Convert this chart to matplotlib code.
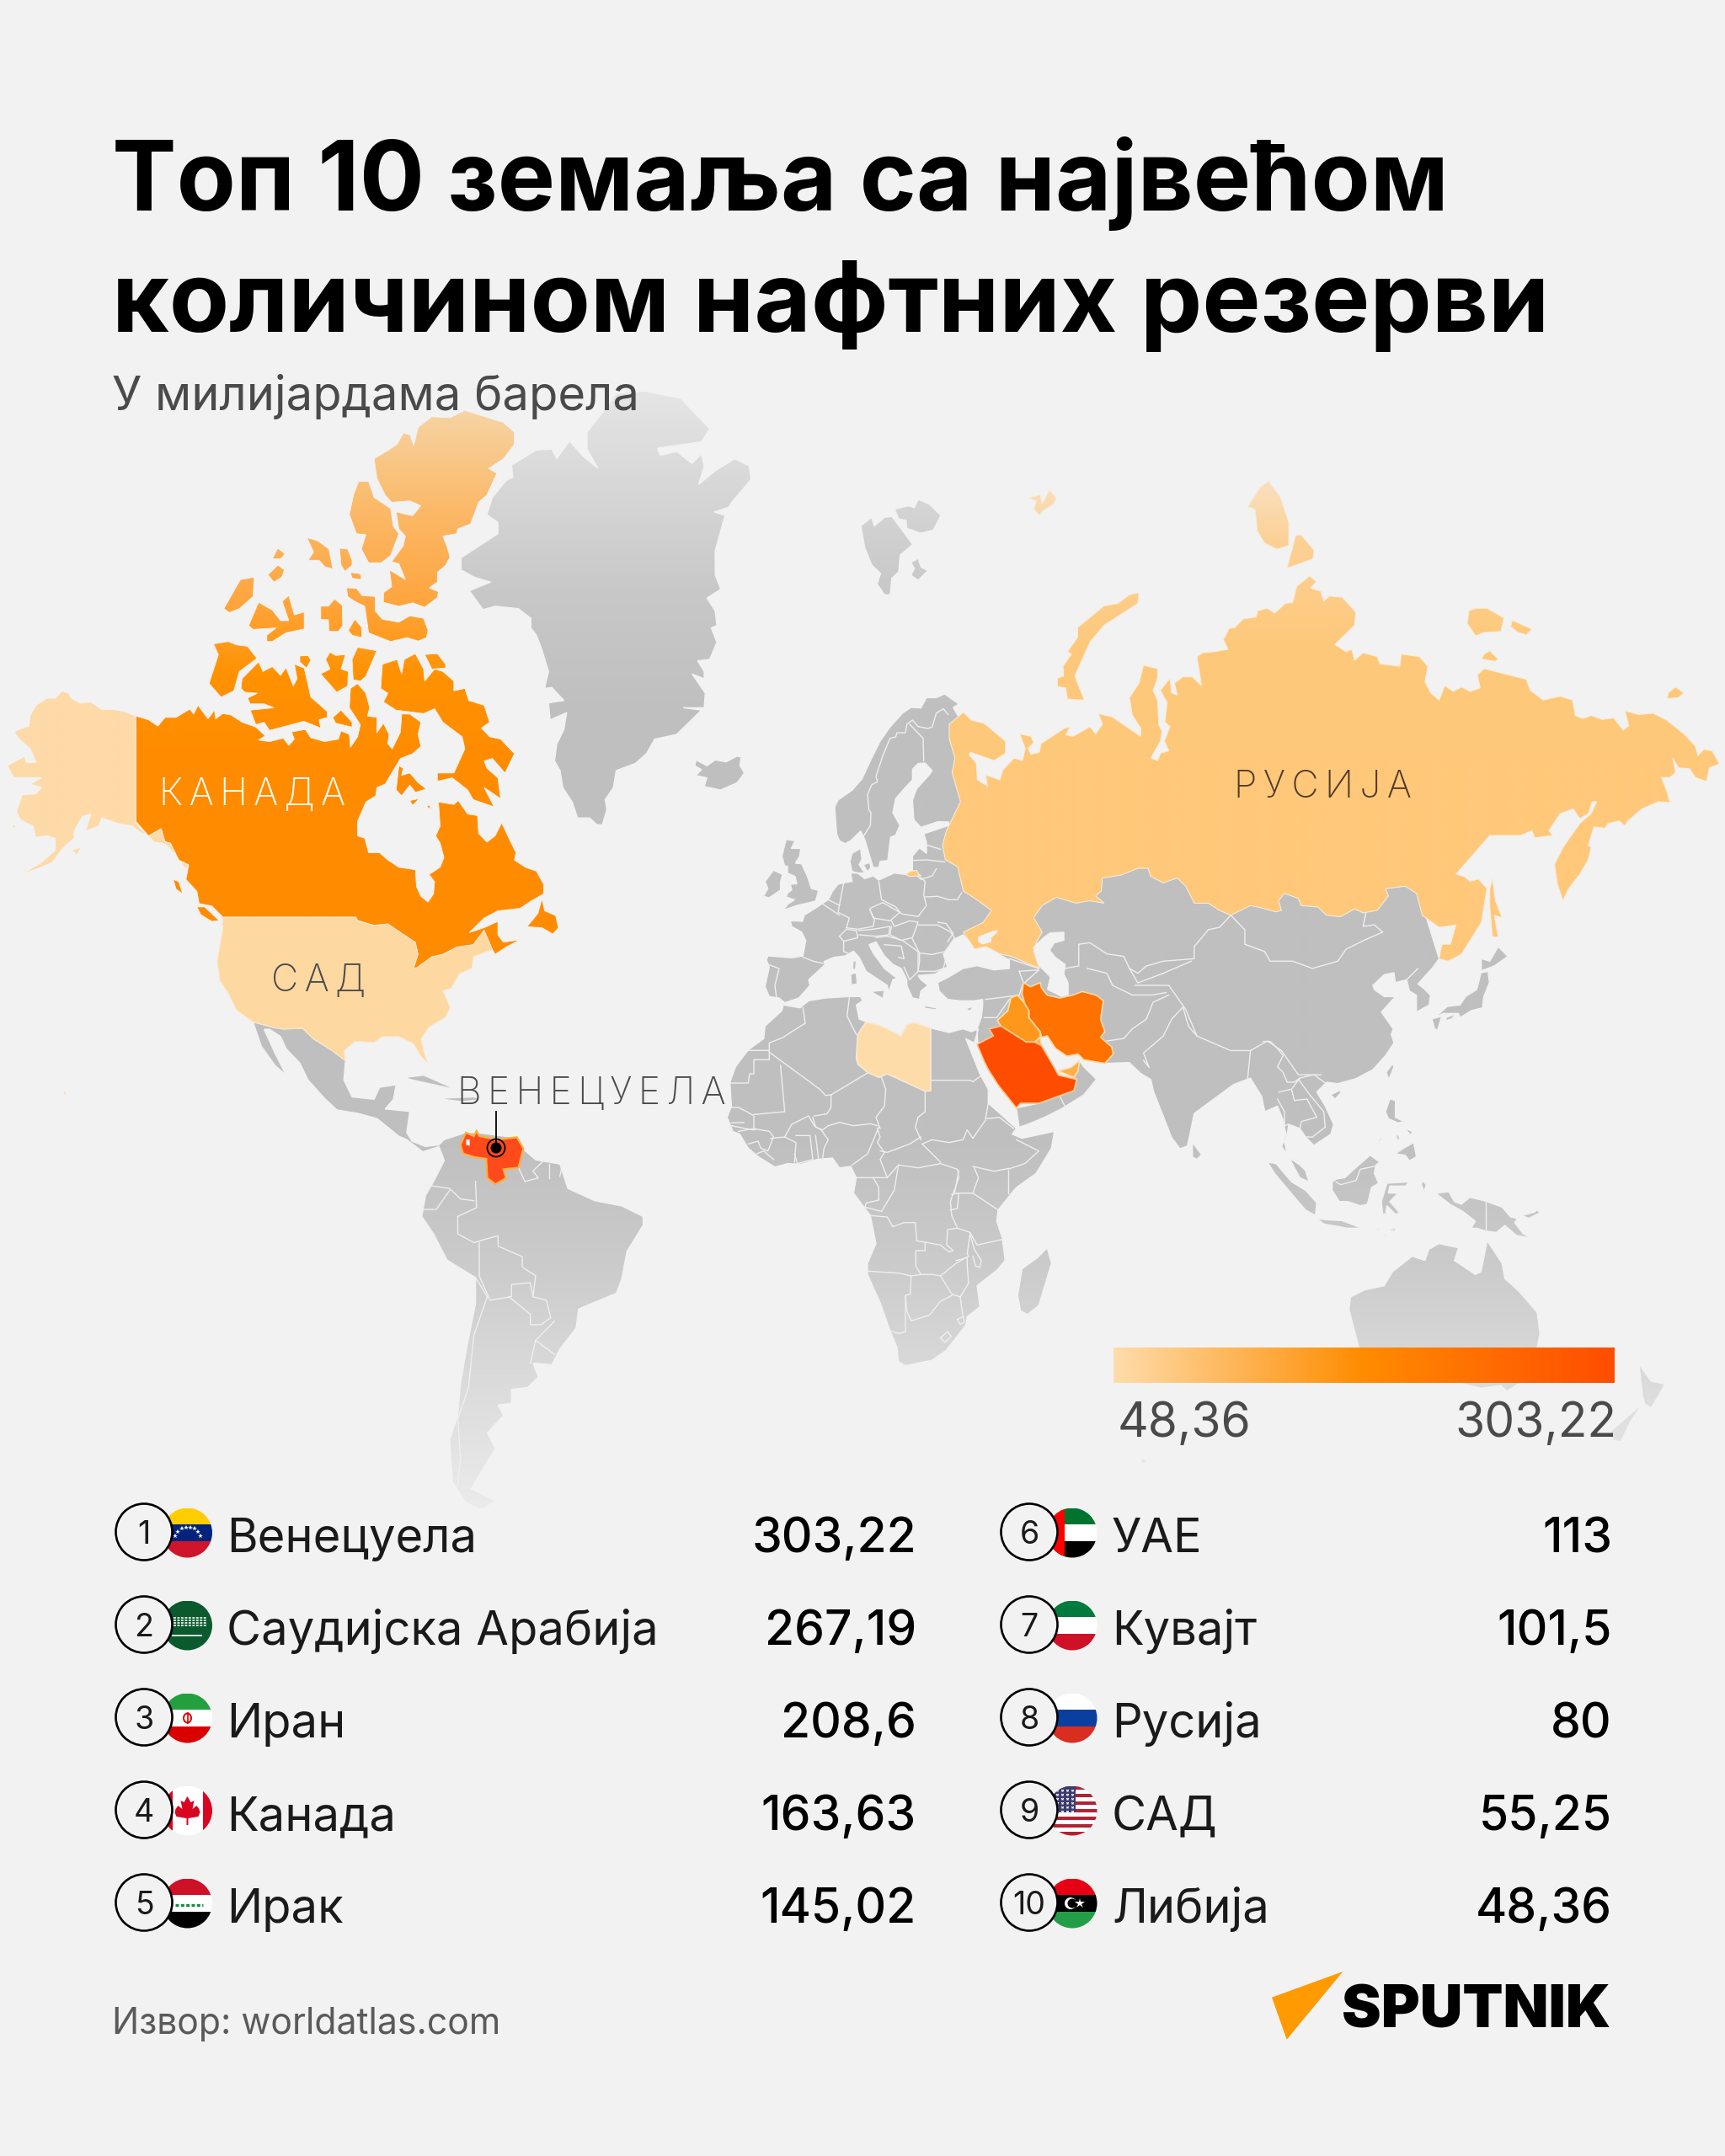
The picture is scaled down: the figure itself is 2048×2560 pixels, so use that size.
import numpy as np
import matplotlib
matplotlib.use('Agg')
import matplotlib.pyplot as plt
from matplotlib.colors import LinearSegmentedColormap, to_rgb
from matplotlib.patches import Circle, Polygon, Rectangle, Ellipse

plt.rcParams['font.family'] = ['Inter', 'DejaVu Sans']

# ---- data -------------------------------------------------------------
TITLE_LINES = ['Топ 10 земаља са највећом', 'количином нафтних резерви']
SUBTITLE = 'У милијардама барела'
SOURCE = 'Извор: worldatlas.com'
RANKS = [1, 2, 3, 4, 5, 6, 7, 8, 9, 10]
COUNTRIES = ['Венецуела', 'Саудијска Арабија', 'Иран', 'Канада', 'Ирак',
             'УАЕ', 'Кувајт', 'Русија', 'САД', 'Либија']
RESERVES = [303.22, 267.19, 208.6, 163.63, 145.02, 113, 101.5, 80, 55.25, 48.36]
MAP_LABELS = ['КАНАДА', 'САД', 'РУСИЈА', 'ВЕНЕЦУЕЛА']

BG = '#f2f2f2'
TXT = '#4a4a4a'

Z1 = (0, 450, 1.531, 1.742)
Z2 = (1000, 550, 1.496, 1.742)
Z3 = (400, 1150, 1.568, 2.412)
Z4 = (1200, 1500, 1.96, 3)
Z8 = (880, 820, 3, 3)
Z9 = (1500, 1150, 3, 3)
Z10 = (840, 1150, 3, 3)


def zc(frame, pts):
    x0, y0, sx, sy = frame
    return [(x0 + x / sx, y0 + y / sy) for x, y in pts]


# ---- country outlines --------------------------------------------------
CANADA = [zc(Z1, p) for p in [
    [(247,697),(270,705),(287,718),(300,700),(320,700),(345,683),(352,693),(360,675),(378,703),(390,685),(392,703),(405,692),(420,695),(440,710),(465,720),(482,738),(470,747),(490,750),(515,743),(525,758),(535,745),(530,730),(555,725),(565,742),(590,750),(615,745),(620,728),(635,735),(637,762),(650,740),(655,715),(635,680),(637,640),(650,630),(665,650),(672,680),(668,697),(685,700),(685,732),(697,712),(707,735),(705,755),(713,765),(728,730),(730,693),(745,693),(765,710),(760,735),(765,760),(750,775),(728,785),(712,815),(700,838),(685,845),(683,862),(665,875),(650,915),(650,945),(663,950),(670,980),(690,980),(705,995),(725,1010),(755,1015),(757,1050),(765,1070),(778,1082),(788,1065),(790,1040),(780,1025),(800,1010),(807,990),(800,960),(792,945),(800,925),(797,875),(825,880),(833,872),(850,900),(868,903),(870,940),(885,958),(900,945),(912,918),(925,950),(938,980),(935,995),(955,1010),(975,1018),(988,1045),(988,1065),(965,1080),(945,1095),(905,1100),(880,1115),(853,1145),(880,1135),(905,1122),(905,1150),(915,1165),(945,1160),(920,1175),(900,1190),(895,1180),(880,1140),(860,1170),(830,1175),(805,1190),(785,1195),(757,1218),(752,1218),(760,1190),(755,1165),(735,1150),(705,1127),(680,1130),(650,1120),(647,1113),(405,1113),(385,1090),(362,1085),(358,1060),(338,1035),(343,1005),(325,995),(310,960),(300,957),(293,930),(270,945),(247,915)],
    [(985,1075),(978,1105),(958,1133),(985,1135),(1005,1148),(1015,1135),(1010,1110),(990,1100)],
    [(358,1092),(372,1092),(398,1120),(385,1122),(365,1108)],
    [(315,1035),(325,1040),(332,1065),(320,1055)],
    [(722,580),(695,590),(692,640),(705,650),(697,668),(720,685),(770,692),(790,682),(805,710),(840,740),(845,765),(825,815),(795,815),(795,832),(822,825),(850,850),(860,870),(898,885),(880,845),(910,868),(905,825),(885,805),(880,790),(895,785),(918,815),(935,775),(910,745),(890,740),(875,722),(890,710),(880,675),(852,665),(845,640),(825,645),(825,625),(805,605),(790,600),(772,625),(770,600),(755,568),(735,580),(730,610)],
    [(725,800),(733,805),(730,820),(745,815),(760,835),(775,848),(755,855),(745,840),(730,862),(720,850)],
    [(745,872),(762,868),(750,882)],
    [(780,880),(783,890),(776,885)],
    [(440,620),(470,585),(478,605),(495,595),(510,613),(520,597),(533,635),(540,620),(535,590),(553,598),(565,658),(595,688),(595,700),(580,705),(583,722),(552,708),(490,727),(480,710),(465,715),(455,685),(498,680),(480,672),(455,672),(450,660),(468,650),(445,648),(438,640)],
    [(388,548),(415,543),(430,550),(450,553),(467,578),(435,605),(425,645),(402,658),(380,630),(397,570)],
    [(600,565),(610,572),(628,570),(620,600),(633,605),(632,635),(612,648),(583,610),(600,600),(592,580)],
    [(650,555),(685,562),(665,615),(655,625),(642,622),(640,580)],
    [(772,570),(795,568),(810,590),(810,598),(785,600)],
    [(545,573),(560,572),(565,582),(557,598),(545,585)],
    [(605,700),(620,685),(640,710),(640,720),(610,712)],
    [(630,432),(648,433),(658,448),(682,450),(682,480),(695,497),(725,503),(745,490),(770,495),(778,520),(775,535),(760,542),(740,535),(710,543),(670,525),(663,470),(645,460),(632,450)],
    [(680,165),(705,148),(722,135),(733,112),(745,115),(752,138),(760,100),(785,78),(818,80),(845,65),(915,90),(935,110),(935,135),(915,165),(888,185),(903,195),(885,240),(870,255),(855,300),(832,310),(830,320),(805,325),(812,345),(818,368),(810,385),(795,400),(795,420),(780,432),(797,440),(795,452),(772,472),(750,463),(725,470),(697,462),(697,442),(712,430),(708,395),(737,415),(725,382),(712,378),(733,345),(737,325),(725,310),(720,275),(750,283),(765,262),(745,252),(712,255),(700,240),(685,205)],
    [(652,212),(670,212),(680,245),(710,268),(715,305),(725,320),(710,365),(693,380),(670,380),(657,352),(665,322),(648,320),(635,280),(643,238)],
    [(558,328),(578,335),(598,352),(605,393),(590,388),(580,375),(560,375),(570,358)],
    [(617,350),(632,352),(640,375),(640,385),(627,398),(620,385)],
    [(637,400),(655,403),(657,415),(640,412)],
    [(505,350),(518,362),(510,372),(495,372)],
    [(505,385),(517,395),(512,410),(498,420),(487,405)],
    [(437,415),(462,410),(460,450),(435,475),(417,483),(407,475)],
    [(470,462),(495,478),(510,500),(525,500),(513,460),(525,448),(535,488),(553,482),(553,517),(520,525),(495,543),(485,543),(485,530),(502,515),(460,518),(452,510)],
    [(583,470),(597,470),(608,455),(622,468),(623,510),(615,522),(598,522),(597,498),(583,497)],
    [(645,497),(657,513),(658,535),(640,530),(633,520)],
]]
CANADA_LAKE = zc(Z1, [(805,740),(820,745),(818,765),(803,765)])

USA = [zc(Z1, p) for p in [
    [(247,697),(228,688),(205,683),(185,683),(165,668),(145,670),(130,660),(125,650),(113,645),(100,660),(85,660),(65,675),(55,695),(52,718),(40,722),(25,730),(35,745),(55,765),(65,793),(48,793),(45,780),(13,800),(25,825),(60,825),(75,825),(55,838),(75,845),(65,858),(40,860),(30,895),(37,912),(60,925),(65,948),(85,945),(100,950),(100,975),(75,1000),(60,1010),(40,1025),(75,1010),(95,1000),(115,970),(135,950),(135,935),(150,905),(165,900),(155,935),(180,925),(185,908),(215,920),(240,925),(258,940),(270,945),(293,930),(300,957),(310,960),(325,995),(343,1005),(338,1015),(320,985),(300,962),(280,958),(260,935),(247,918)],
    [(130,975),(148,968),(140,985)],
    [(20,920),(30,925),(25,930)],
    [(115,1470),(122,1478),(116,1482)],
    [(405,1113),(647,1113),(650,1120),(680,1130),(705,1127),(735,1150),(755,1165),(760,1190),(752,1218),(785,1195),(805,1190),(830,1175),(860,1170),(880,1135),(890,1165),(895,1180),(860,1195),(858,1218),(835,1230),(820,1260),(805,1265),(818,1300),(810,1320),(780,1340),(765,1365),(770,1390),(777,1415),(765,1400),(752,1375),(725,1360),(695,1360),(680,1372),(645,1370),(625,1390),(628,1410),(605,1390),(585,1375),(570,1365),(550,1343),(515,1345),(500,1342),(460,1330),(430,1305),(415,1270),(400,1245),(395,1205),(405,1140)],
]]

RUSSIA = [
    zc(Z2, [(190,540),(215,515),(230,532),(252,538),(290,575),(290,600),(270,615),(228,598),(225,603),(238,620),(240,655),(258,668),(255,645),(280,655),(285,635),(305,610),(320,615),(325,590),(315,560),(335,565),(340,578),(330,590),(335,602),(350,598),(353,580),(395,548),(405,545),(397,562),(410,565),(425,555),(440,545),(450,560),(462,540),(455,518),(480,525),(530,565),(530,548),(520,530),(515,520),(510,485),(527,455),(535,418),(560,425),(560,445),(552,470),(560,490),(562,540),(568,555),(565,575),(548,610),(560,615),(565,600),(580,595),(572,575),(582,545),(573,535),(577,495),(565,470),(582,445),(585,475),(595,480),(590,455),(605,442),(622,442),(638,460),(630,400),(640,392),(660,390),(685,385),(677,365),(687,342),(697,340),(712,322),(735,318),(738,305),(755,300),(768,310),(787,290),(800,288),(807,255),(830,233),(842,245),(832,258),(850,265),(855,285),(865,275),(888,277),(912,308),(910,335),(875,375),(895,390),(905,385),(910,408),(925,392),(950,400),(955,415),(990,420),(993,395),(1025,400),(1040,420),(1035,452),(1045,475),(1060,490),(1070,460),(1085,472),(1100,463),(1115,472),(1133,465),(1128,438),(1140,425),(1215,447),(1222,470),(1245,490),(1275,482),(1297,490),(1302,522),(1315,528),(1330,522),(1350,530),(1370,527),(1387,552),(1397,543),(1390,512),(1415,520),(1440,517),(1465,532),(1495,560),(1515,585),(1520,605),(1530,592),(1545,595),(1558,622),(1540,630),(1535,658),(1515,650),(1505,632),(1485,630),(1475,610),(1480,640),(1470,650),(1455,650),(1465,680),(1470,702),(1450,700),(1420,715),(1395,740),(1390,750),(1380,740),(1360,745),(1355,755),(1335,752),(1325,790),(1330,795),(1325,820),(1310,850),(1290,880),(1280,905),(1270,870),(1265,830),(1280,795),(1310,745),(1330,725),(1340,700),(1332,700),(1325,725),(1310,735),(1298,715),(1275,725),(1255,760),(1262,770),(1230,775),(1225,760),(1205,770),(1150,770),(1090,850),(1105,855),(1115,865),(1130,860),(1145,880),(1135,950),(1100,1015),(1085,1025),(1075,1030),(1060,1025),(1065,995),(1080,995),(1090,955),(1060,960),(1030,935),(1020,890),(1000,875),(965,880),(970,895),(950,925),(925,930),(910,922),(885,938),(860,935),(845,918),(815,915),(810,900),(785,890),(775,905),(780,925),(770,928),(745,920),(725,915),(690,935),(670,925),(650,910),(625,910),(610,875),(595,858),(570,868),(548,855),(543,838),(525,838),(495,852),(462,858),(460,885),(450,895),(465,910),(440,905),(415,910),(380,898),(355,915),(340,940),(355,970),(345,990),(340,1010),(350,1045),(300,1020),(280,1015),(255,1000),(235,1005),(215,970),(250,950),(265,925),(235,900),(215,885),(205,835),(183,820),(178,790),(185,760),(210,700),(200,660),(195,640),(200,610),(190,570)]),
    zc(Z2, [(1155,860),(1160,905),(1172,940),(1158,935),(1165,980),(1155,980),(1150,920),(1150,880)]),
    zc(Z2, [(527,268),(525,290),(465,335),(440,370),(413,440),(430,490),(400,488),(397,465),(382,462),(382,445),(393,440),(392,420),(407,395),(400,390),(418,360),(418,340),(465,295),(490,290),(510,272)]),
    zc(Z2, [(330,72),(352,65),(355,85),(368,55),(380,72),(375,85),(358,97),(350,108),(340,95),(345,78)]),
    zc(Z2, [(757,37),(778,70),(793,122),(793,170),(772,178),(750,165),(737,140),(733,95),(720,90),(742,50)]),
    zc(Z2, [(815,148),(838,180),(836,198),(790,217),(805,150)]),
    zc(Z2, [(1125,300),(1145,300),(1175,320),(1170,348),(1140,350),(1125,357),(1110,332),(1113,305)]),
    zc(Z2, [(1190,325),(1225,343),(1215,355),(1200,350),(1187,338)]),
    zc(Z2, [(1150,388),(1165,405),(1160,410),(1135,405),(1140,395)]),
    zc(Z2, [(1480,463),(1495,475),(1485,485),(1465,487),(1467,475)]),
    zc(Z8, [(585,655),(600,645),(625,640),(635,660),(600,662)]),
]
AZOV = zc(Z8, [(845,878),(875,865),(910,853),(912,860),(890,880),(890,895),(860,903),(845,895)])
CASPIAN = zc(Z8, [(1040,915),(1075,880),(1100,862),(1150,860),(1150,890),(1115,900),(1100,925),(1120,950),(1155,975),(1150,1010),(1165,1040),(1165,1085),(1140,1090),(1090,1065),(1100,1020),(1060,980)])

LIBYA = zc(Z10, [(565,190),(620,205),(690,240),(710,200),(735,192),(795,212),(795,435),(775,437),(640,375),(610,388),(570,370),(535,340),(530,318),(535,235)])
SAUDI = zc(Z10, [(1003,215),(1045,205),(1135,262),(1165,262),(1190,275),(1225,335),(1245,370),(1250,380),(1315,395),(1305,435),(1180,480),(1115,480),(1100,497),(1035,415),(1000,360),(985,330),(960,270),(1018,240)])
KUWAIT = zc(Z10, [(1165,262),(1185,245),(1190,275)])
IRAQ = zc(Z10, [(1080,105),(1105,95),(1130,125),(1145,150),(1145,175),(1185,225),(1185,245),(1165,262),(1135,262),(1045,205),(1032,185),(1070,150)])
IRAN = zc(Z10, [(1125,50),(1150,65),(1185,50),(1190,70),(1210,95),(1255,105),(1300,95),(1335,82),(1385,95),(1410,115),(1400,180),(1415,225),(1400,245),(1440,280),(1445,305),(1415,338),(1340,325),(1320,305),(1280,312),(1240,285),(1210,240),(1190,245),(1185,225),(1145,175),(1145,150),(1130,125),(1120,90)])
UAE = zc(Z10, [(1250,365),(1295,352),(1325,328),(1320,365),(1305,388)])
VENEZUELA = zc(Z3, [(230,505),(240,470),(255,480),(260,465),(265,480),(300,490),(335,483),(347,515),(338,570),(310,575),(315,600),(295,618),(280,600),(278,545),(255,540),(235,530)])
MARACAIBO = zc(Z3, [(241,490),(247,490),(247,507),(241,505)])

# grey land, Russia and the highlighted countries are painted over it
EURASIA = (
    zc(Z8, [(725,12),(695,25),(660,25),(640,62),(605,60),(575,80),(530,130),(495,180),(465,240),(430,315),(395,355),(345,390),(333,415),(340,510),(350,535),(370,545),(390,535),(425,500),(440,530),(470,630),(490,630),(495,608),(522,605),(532,522),(550,515),(565,480),(540,435),(550,385),(580,350),(610,318),(610,280),(630,260),(655,258),(680,285),(670,300),(625,350),(610,390),(615,460),(640,487),(700,467),(738,468),(740,480),(690,497),(650,510),(660,540),(660,580),(635,560),(610,590),(610,640),(640,660),(585,655),(545,650),(490,675),(470,660),(440,670),(415,650),(395,645),(387,610),(395,580),(425,562),(430,600),(420,620),(440,650),(390,650),(395,680),(365,685),(345,690),(325,715),(310,745),(290,758),(265,775),(225,800),(218,822),(175,820),(180,840),(215,860),(230,890),(220,945),(180,952),(95,945),(90,960),(100,985),(85,1055),(100,1090),(135,1095),(155,1112),(205,1095),(245,1050),(240,1030),(300,975),(295,965),(330,950),(370,945),(400,928),(420,950),(445,1000),(490,1030),(520,1050),(525,1075),(540,1030),(555,1025),(510,990),(470,935),(455,905),(480,895),(510,945),(540,975),(570,990),(590,1030),(590,1050),(610,1095),(635,1100),(640,1070),(665,1050),(640,1030),(630,1015),(690,1010),(720,990),(735,985),(720,940),(760,885),(790,870),(820,900),(825,920),(870,905),(920,940),(955,960),(955,990),(900,995),(840,980),(790,990),(740,1020),(700,1040),(705,1070),(735,1100),(780,1105),(830,1105),(860,1100)])
    + zc(Z10, [(980,135),(975,175),(960,215),(962,265),(1100,250),(1170,250),(1250,200),(1340,325),(1415,338),(1500,335)])
    + zc(Z2, [(510,1240),(530,1262),(548,1275),(553,1300),(570,1350),(585,1395),(600,1418),(613,1412),(625,1345),(660,1315),(695,1285),(725,1272),(745,1310)])
    + zc(Z9, [(5,510),(50,490),(70,540),(80,590),(65,635),(100,680),(130,700),(150,720),(162,760),(130,745),(100,690),(85,660),(75,620),(85,590),(90,555),(130,570),(150,600),(180,630),(240,590),(250,555),(220,490),(190,440),(225,405),(265,410),(330,392),(390,360),(435,310),(465,265),(455,235),(462,215),(420,155),(470,100),(430,100),(395,75),(390,60),(430,22),(465,15),(470,50),(510,40),(520,80),(545,95),(545,155),(590,130),(595,95),(570,70),(550,55),(600,0)])
    + zc(Z2, [(1060,1025),(1000,800),(600,750),(300,700)])
    + zc(Z8, [(800,300),(775,95),(755,60),(775,48)])
)
AFRICA = zc(Z10, [(270,130),(330,140),(360,115),(420,105),(505,100),(545,100),(552,115),(530,130),(540,180),(565,190),(620,205),(690,240),(710,200),(735,192),(795,212),(860,228),(910,215),(940,225),(965,215),(950,265),(920,250),(970,375),(1000,430),(1000,480),(1040,515),(1100,570),(1085,590),(1120,605),(1235,580),(1225,640),(1170,730),(1100,780),(1075,810),(1035,860),(1030,900),(1050,960),(1060,1040),(1030,1075),(960,1130),(970,1205),(925,1240),(920,1270),(850,1360),(800,1395),(705,1415),(680,1400),(675,1350),(650,1290),(615,1190),(570,1090),(570,1050),(600,980),(580,880),(520,800),(530,745),(510,705),(470,710),(445,675),(390,680),(335,697),(285,695),(240,707),(180,670),(145,640),(115,590),(90,580),(70,530),(85,490),(80,405),(100,350),(145,290),(200,250),(205,205),(265,150)])
AMERICAS = (
    zc(Z3, [(200,490),(240,470),(260,470),(335,485),(345,515),(370,548),(415,560),(430,630),(480,665),(530,680),(570,710),(570,735),(540,810),(530,890),(520,930),(450,975),(445,1030),(415,1090),(400,1135),(365,1130),(375,1170),(355,1200),(325,1205),(325,1245),(300,1250),(310,1280),(280,1330),(295,1375),(265,1450),(250,1490),(295,1525),(270,1550),(240,1530),(215,1470),(210,1350),(225,1280),(230,1190),(240,1100),(258,960),(258,885),(205,835),(180,760),(158,710),(165,650),(180,610),(200,550),(190,510),(160,525),(130,490),(115,480),(75,430),(40,415),(0,405)])
    + zc(Z1, [(590,1488),(560,1450),(545,1415),(520,1385),(510,1360),(490,1345),(480,1345),(500,1395),(520,1440),(500,1420),(475,1380),(460,1330),(500,1342),(550,1343),(570,1365),(605,1390),(628,1410),(625,1450),(640,1485),(680,1490),(690,1465),(720,1460),(715,1490),(700,1510),(745,1515)])
    + zc(Z3, [(135,415),(130,470),(140,495),(165,510),(190,505)])
)
GREY_LAND = [
    EURASIA, AFRICA, AMERICAS,
    zc(Z1, [(1170,25),(1237,40),(1290,103),(1275,130),(1195,143),(1200,158),(1230,150),(1258,175),(1275,155),(1280,180),(1270,218),(1300,190),(1335,165),(1362,180),(1365,208),(1330,255),(1325,265),(1298,275),(1318,282),(1300,355),(1300,405),(1310,435),(1285,453),(1300,480),(1303,510),(1293,515),(1303,545),(1290,580),(1268,583),(1280,605),(1280,620),(1258,610),(1282,650),(1280,680),(1242,680),(1275,685),(1230,735),(1190,745),(1175,775),(1155,795),(1120,810),(1115,845),(1100,870),(1103,890),(1095,922),(1085,922),(1072,908),(1050,908),(1040,875),(1023,845),(1018,810),(1008,790),(1012,755),(1025,725),(1030,690),(1000,705),(997,670),(1025,665),(1003,638),(990,640),(997,605),(985,560),(975,530),(965,515),(965,495),(942,475),(900,470),(878,477),(853,438),(892,420),(862,410),(838,395),(838,370),(905,320),(905,297),(885,280),(895,245),(920,210),(932,203),(930,178),(975,147),(1003,145),(1012,165),(1035,128),(1060,160),(1087,185),(1067,145),(1067,110),(1105,55),(1120,30)]),
    zc(Z1, [(1265,788),(1285,800),(1300,788),(1320,792),(1340,780),(1347,782),(1345,800),(1353,815),(1340,835),(1310,850),(1280,843),(1285,825),(1265,820),(1275,808),(1263,800)]),
    zc(Z2, [(33,130),(52,112),(57,130),(75,112),(88,110),(125,168),(103,190),(100,225),(88,238),(85,272),(75,272),(62,250),(68,228),(52,210),(40,175)]),
    zc(Z2, [(122,205),(135,197),(140,215),(152,222),(135,242),(122,232),(128,218)]),
    zc(Z2, [(93,95),(118,88),(128,92),(135,75),(155,85),(175,108),(162,138),(140,145),(115,135),(113,118),(100,115)]),
    zc(Z8, [(160,530),(192,535),(178,562),(212,562),(208,590),(193,615),(215,617),(235,660),(250,705),(275,712),(265,750),(200,765),(185,770),(150,782),(165,762),(190,745),(160,735),(165,722),(180,710),(175,690),(198,688),(192,662),(165,650),(165,625),(155,625),(145,590),(150,570)]),
    zc(Z8, [(115,640),(148,655),(140,680),(140,710),(100,738),(80,733),(95,705),(85,680)]),
    zc(Z8, [(435,620),(458,613),(462,630),(450,645)]),
    zc(Z8, [(390,1010),(410,1005),(413,1045),(392,1048)]),
    zc(Z8, [(398,965),(410,962),(407,995),(397,992)]),
    zc(Z8, [(462,1072),(510,1067),(505,1097)]),
    zc(Z8, [(650,1122),(695,1130),(695,1137),(655,1132)]),
    zc(Z8, [(800,1133),(828,1125),(815,1142)]),
    zc(Z10, [(1100,497),(1110,565),(1140,555),(1200,530),(1260,500),(1340,450),(1385,395),(1340,350),(1325,330),(1305,388),(1315,395),(1305,435),(1180,480)]),
    zc(Z10, [(1210,995),(1225,1050),(1180,1200),(1140,1232),(1115,1220),(1105,1165),(1120,1070),(1175,1030)]),
    zc(Z1, [(735,1445),(770,1440),(800,1455),(830,1470),(790,1460),(750,1450)]),
    zc(Z1, [(795,1488),(860,1485),(878,1490),(840,1495)]),
    zc(Z9, [(310,1170),(360,1145),(430,1130),(460,1080),(530,1025),(575,1040),(590,1000),(625,980),(695,995),(680,1040),(755,1090),(775,1080),(797,970),(850,1050),(860,1105),(910,1150),(975,1225),(985,1300),(975,1350)])
    + zc(Z4, [(1225,350),(1180,430),(1155,455),(1140,435),(1095,445),(1000,410),(800,300)])
    + zc(Z9, [(340,1350),(305,1215)]),
    zc(Z4, [(1462,360),(1490,420),(1522,430),(1510,465),(1490,515),(1475,500),(1470,470)]),
    zc(Z4, [(1470,500),(1440,570),(1420,635),(1400,630),(1395,600),(1440,540)]),
    zc(Z4, [(1365,85),(1395,122),(1385,115)]),
    zc(Z4, [(305,695),(320,705),(302,715)]),
    zc(Z9, [(620,800),(660,795),(680,830),(705,840),(735,815),(790,828),(850,850),(880,885),(905,890),(895,905),(925,945),(955,962),(900,950),(860,915),(830,940),(790,935),(760,925),(740,925),(755,900),(710,865),(665,840),(620,805)]),
    zc(Z9, [(245,760),(260,750),(290,745),(340,700),(380,665),(415,690),(400,700),(395,730),(410,765),(385,780),(370,840),(345,845),(300,830),(270,830),(245,790)]),
    zc(Z9, [(15,690),(45,695),(100,760),(150,790),(190,835),(185,880),(150,860),(90,790),(40,730)]),
    zc(Z9, [(190,890),(220,895),(280,898),(350,925),(300,925),(215,910)]),
    zc(Z9, [(420,830),(440,765),(520,760),(505,775),(450,775),(445,800),(480,800),(450,830),(485,870),(470,875),(440,845),(435,875),(425,875)]),
    zc(Z9, [(450,465),(470,470),(470,530),(500,545),(480,550),(445,535),(435,510)]),
    zc(Z9, [(470,660),(500,640),(535,620),(545,670),(520,685),(505,665)]),
    zc(Z9, [(470,585),(485,600),(480,620)]),
    zc(Z9, [(505,570),(530,580),(525,595)]),
    zc(Z9, [(390,635),(425,595),(420,610)]),
    zc(Z9, [(460,340),(465,350),(447,395),(437,370)]),
    zc(Z9, [(240,450),(270,435),(278,440),(255,465)]),
    zc(Z9, [(775,15),(800,10),(805,50),(785,100),(780,140),(740,150),(700,175),(695,160),(640,160),(610,175),(655,135),(700,130),(720,100),(760,75)]),
    zc(Z9, [(600,180),(635,170),(620,220),(610,215)]),
    zc(Z9, [(650,175),(685,162),(670,180),(650,185)]),
    zc(Z2, [(1135,1025),(1150,1030),(1165,1000),(1182,1020),(1158,1040),(1135,1050)]),
    zc(Z2, [(622,1405),(638,1430),(630,1440),(622,1435)]),
    zc(Z9, [(920,880),(965,868),(975,860),(985,870),(945,890)]),
    zc(Z9, [(495,960),(555,925),(520,945)]),
    zc(Z9, [(380,935),(415,925),(412,932)]),
    zc(Z9, [(430,945),(445,955),(425,950)]),
    zc(Z9, [(435,930),(480,925),(465,935)]),
    zc(Z9, [(575,835),(615,845),(590,838)]),
    zc(Z9, [(565,755),(580,770),(572,795),(563,770)]),
    zc(Z9, [(1190,1135),(1235,1170),(1210,1155)]),
]

BORDERS = [zc(Z8, p) for p in [
    [(737,85),(720,65),(695,80),(680,130),(665,135),(630,128),(610,105),(590,120),(585,150),(555,150),(550,165),(530,170),(505,230),(480,305),(485,325),(465,335),(450,370),(455,425),(462,435),(460,480),(435,520)],
    [(600,120),(648,170),(650,250)],
    [(660,550),(710,565)],
    [(608,605),(660,603),(725,610)],
    [(695,635),(680,660),(640,673),(610,640)],
    [(490,680),(500,745),(550,770),(570,795),(630,805),(660,765),(650,730),(655,680),(640,665)],
    [(655,735),(700,733),(740,745),(770,745),(785,720)],
    [(365,685),(355,735),(345,790),(385,810),(375,845)],
    [(375,845),(415,850),(470,840),(475,815),(458,780)],
    [(458,780),(470,810),(500,815),(530,820),(565,790),(530,770),(505,755),(460,775)],
    [(290,760),(350,800)],
    [(310,745),(350,765)],
    [(350,875),(375,850),(410,855),(415,880),(365,893),(350,875)],
    [(365,895),(365,930),(380,935)],
    [(420,855),(470,850),(530,840),(525,870),(480,875),(420,870)],
    [(535,820),(545,840),(600,820),(630,825),(610,880),(570,890),(530,870),(535,840)],
    [(630,835),(700,835),(745,860),(760,880),(740,910),(725,930),(680,940),(635,935),(610,885)],
    [(700,825),(730,830),(755,865),(735,895)],
    [(635,935),(635,965),(630,1000),(690,1000),(720,990),(730,950)],
    [(480,880),(520,875),(575,890),(630,930),(630,1000),(600,1030),(580,985)],
    [(510,905),(570,910),(580,955),(560,950)],
    [(95,975),(135,990),(120,1050),(125,1090)],
    [(220,950),(260,965),(295,972)],
    [(395,645),(420,650)],
    [(955,955),(1000,970),(1060,990)],
    [(990,1000),(1060,995),(1010,1040)],
    [(990,1000),(1005,1040),(990,1085),(870,1100)],
]] + [zc(Z2, p) for p in [
    [(395,1045),(420,1040),(420,995),(440,992),(470,1015),(500,1020),(510,1045),(525,1055),(540,1040),(570,1030),(625,1025),(625,1000),(650,965),(670,960),(690,935)],
    [(690,935),(715,965),(715,995),(750,1010),(760,1030),(800,1030),(835,1045),(880,1030),(895,1005),(930,985),(960,970),(945,955),(925,958),(930,930)],
    [(435,1045),(470,1055),(480,1080),(515,1100),(550,1100),(575,1095)],
    [(510,1045),(525,1075),(570,1055),(620,1030)],
    [(520,1080),(580,1080),(610,1130),(630,1185),(690,1215),(725,1215),(755,1195),(780,1215),(810,1265),(850,1265)],
    [(470,1195),(500,1190),(515,1170),(540,1150),(552,1115),(580,1100)],
    [(535,1235),(545,1250),(535,1220),(570,1185),(585,1150),(605,1125),(615,1165),(630,1185)],
    [(725,1215),(720,1272)],
]] + [zc(Z9, p) for p in [
    [(510,40),(550,0)],
    [(0,260),(25,260),(50,285),(70,310),(50,350),(70,370),(85,405),(110,405),(130,390)],
    [(100,430),(130,390),(180,378),(220,408)],
    [(55,440),(100,430),(110,470),(155,465),(190,530),(135,545),(130,570)],
    [(125,395),(165,450),(215,510),(220,565),(175,600),(150,600)],
    [(50,465),(75,510),(75,560),(90,555)],
    [(100,680),(125,685)],
    [(258,760),(275,770),(330,755),(345,715),(395,705)],
    [(793,830),(793,935)],
]] + [zc(Z10, p) for p in [
    [(340,140),(348,195),(300,225),(270,245),(220,265),(220,295)],
    [(80,408),(145,408),(150,375),(165,375),(165,325),(220,325),(220,292),(145,292)],
    [(220,298),(400,430),(420,452),(440,450),(570,372)],
    [(505,105),(497,170),(530,235)],
    [(260,345),(275,510),(165,520)],
    [(440,450),(440,495),(425,518),(380,525)],
    [(85,495),(110,495),(140,510),(165,525),(165,565),(170,575)],
    [(620,388),(635,430),(630,490),(600,530),(615,570)],
    [(375,530),(385,565),(410,575),(430,560),(470,548),(520,560),(580,553),(605,560)],
    [(775,440),(775,510),(750,530),(740,565),(760,610)],
    [(795,398),(935,398),(945,403),(970,385)],
    [(1000,480),(990,535),(1040,530),(1090,570)],
    [(990,540),(945,605),(925,575),(910,610),(860,620),(800,610),(765,625)],
    [(765,625),(830,690)],
    [(760,600),(720,625),(640,655),(615,650)],
    [(605,570),(615,600),(605,620),(630,655),(615,680),(640,745),(590,745)],
    [(610,565),(570,660),(515,700)],
    [(275,600),(300,555),(360,525),(380,560),(405,575),(430,610),(415,640),(410,675)],
    [(315,595),(365,595),(375,680),(320,695),(310,660)],
    [(385,595),(395,675)],
    [(225,605),(275,600),(315,620),(310,690)],
    [(145,625),(180,615),(190,640),(215,650),(235,600),(220,580),(190,575),(165,570),(110,580)],
    [(175,660),(200,650),(235,680)],
    [(85,560),(135,570),(165,575)],
    [(85,550),(130,548)],
    [(640,745),(680,700),(750,710),(830,695),(890,715),(895,745),(875,800),(865,830),(870,880),(890,925),(855,930),(852,985),(875,1005),(860,1010),(830,985),(775,975),(745,970),(740,905),(700,905),(660,920),(640,885),(580,880)],
    [(560,850),(620,865),(665,790),(680,700)],
    [(530,745),(590,745),(610,780),(610,825),(565,835),(560,855)],
    [(950,710),(965,745),(945,800)],
    [(890,800),(945,800),(1035,860)],
    [(890,925),(935,940),(960,985),(1050,965)],
    [(1070,720),(1070,800)],
    [(1070,715),(1130,695),(1180,650),(1100,610)],
    [(945,705),(1020,722),(1075,712)],
    [(870,805),(895,800),(890,855),(865,860)],
    [(895,720),(880,800)],
    [(570,1078),(680,1085),(725,1095),(760,1090),(742,1060),(742,1005),(775,1005),(775,975)],
    [(760,1090),(800,1090),(830,1095),(885,1050),(930,1025),(925,1015),(935,945)],
    [(935,945),(950,1000),(975,1040),(970,1065),(955,1060),(945,1025)],
    [(885,1040),(925,1030),(925,1060),(930,1120),(900,1170),(910,1240)],
    [(830,1095),(870,1160),(900,1170)],
    [(725,1095),(722,1160),(705,1165),(710,1220),(725,1255),(790,1235),(830,1185),(870,1165)],
    [(705,1165),(705,1295),(680,1300),(650,1290)],
    [(830,1315),(855,1293),(868,1310),(845,1332),(830,1315)],
    [(890,1250),(910,1240),(915,1260),(900,1268),(890,1250)],
    [(1255,455),(1275,495)],
    [(985,175),(1030,175),(1075,110)],
]] + [zc(Z3, p) for p in [
    [(258,610),(260,685),(225,710)],
    [(165,620),(210,630),(230,660),(255,665)],
    [(160,690),(185,690),(210,635)],
    [(225,710),(225,760),(255,785),(300,765),(300,790)],
    [(265,785),(265,880),(285,950),(325,940),(325,905),(360,900),(365,940),(390,950),(398,1000),(380,1020),(360,1020),(360,990),(320,940)],
    [(300,795),(345,825),(345,855),(370,880),(365,940)],
    [(258,885),(280,940),(255,1050),(245,1200),(225,1290),(230,1400),(225,1480)],
    [(405,1010),(370,1065),(360,1130)],
    [(370,1065),(405,1105)],
    [(338,570),(350,610),(375,600),(365,580),(385,550)],
    [(395,600),(395,560)],
    [(415,595),(420,560)],
]]

# ---- colours from the values --------------------------------------------
vmin, vmax = min(RESERVES), max(RESERVES)
value_cmap = LinearSegmentedColormap.from_list(
    'reserves', [(0, '#fedcaa'), (0.45, '#ff8c00'), (0.86, '#ff4d00'), (1, '#ff4a1c')])
bar_cmap = LinearSegmentedColormap.from_list(
    'bar', [(0, '#fedcaa'), (0.5, '#ff8c00'), (1, '#ff4d00')])


def value_colour(name):
    v = RESERVES[COUNTRIES.index(name)]
    return value_cmap((v - vmin) / (vmax - vmin))


GREY_STOPS = [(440, '#e8e8e8'), (700, '#c8c8c8'), (850, '#bfbfbf'), (1350, '#bfbfbf'),
              (1500, '#cbcbcb'), (1650, '#dcdcdc'), (1790, '#ebebeb'), (1830, '#f2f2f2')]
CANADA_STOPS = [(480, '#f6d6a8'), (600, '#fbba6a'), (710, '#ffa640'), (800, '#ff9200'),
                (900, '#ff8c00')]
RUSSIA_STOPS = [(560, '#f9e2c6'), (640, '#fcd196'), (760, '#fec97c'), (900, '#ffc87a')]

fig = plt.figure(figsize=(20.48, 25.6), dpi=100, facecolor=BG)
ax = fig.add_axes([0, 0, 1, 1])
ax.set_facecolor(BG)
ax.axis('off')


def gradient_fill(polys, stops, edge=BG, lw=1.0, zorder=1):
    ys = np.arange(0, 2560, 2)
    pos = [s[0] for s in stops]
    cols = np.array([to_rgb(s[1]) for s in stops])
    column = np.stack([np.interp(ys, pos, cols[:, i]) for i in range(3)], axis=1)[:, None, :]
    for poly in polys:
        patch = Polygon(poly, closed=True, fc='none', ec=edge, lw=lw, zorder=zorder + 0.1)
        ax.add_patch(patch)
        im = ax.imshow(column, extent=(0, 2048, 2560, 0), aspect='auto',
                       interpolation='bilinear', zorder=zorder)
        im.set_clip_path(patch)


def flat(polys, colour, edge=BG, lw=1.2, zorder=3):
    for poly in polys:
        ax.add_patch(Polygon(poly, closed=True, fc=colour, ec=edge, lw=lw, zorder=zorder))


# ---- map -----------------------------------------------------------------
gradient_fill(GREY_LAND, GREY_STOPS, zorder=1)
for line in BORDERS:
    xs, ys = zip(*line)
    ax.plot(xs, ys, color='#efefef', lw=1.0, solid_joinstyle='round', zorder=1.5)

gradient_fill(USA[:4], [(0, '#fedaa8'), (2560, '#fedaa8')], edge=BG, zorder=2)
flat(USA[4:], value_colour('САД'), edge='#fbe6c8', lw=0.8, zorder=2)
gradient_fill(RUSSIA, RUSSIA_STOPS, edge='#f6ecdc', lw=0.8, zorder=2)
gradient_fill(CANADA, CANADA_STOPS, edge=BG, lw=0.6, zorder=2.5)
flat([CANADA_LAKE, AZOV, CASPIAN], BG, edge=BG, lw=0.5, zorder=2.7)
flat([LIBYA], value_colour('Либија'), edge='#f7ead6')
flat([IRAQ], value_colour('Ирак'), edge='#fde0b0')
flat([IRAN], value_colour('Иран'), edge='#fdd9a8')
flat([KUWAIT], value_colour('Кувајт'), edge='#fde0b0')
flat([UAE], value_colour('УАЕ'), edge='#fde0b0')
flat([SAUDI], value_colour('Саудијска Арабија'), edge='#fdc890')
flat([VENEZUELA], value_colour('Венецуела'), edge='#ffb040', lw=1.6)
flat([MARACAIBO], BG, edge=BG, lw=0.3, zorder=3.1)

# Venezuela marker
mx, my = 589, 1363
ax.plot([mx, mx], [1320, my], color='black', lw=1.3, zorder=5)
ax.add_patch(Circle((mx, my), 10.5, fc='none', ec='black', lw=1.3, zorder=5))
ax.add_patch(Circle((mx, my), 6.5, fc='black', ec='none', zorder=5))

# ---- map labels, spaced out with six-per-em spaces -------------------------
LABEL_FS = 32
for txt, x, y, col in zip(MAP_LABELS,
                          [189, 322, 1465, 543],
                          [956, 1177, 947, 1311],
                          ['white', TXT, '#4f3b25', TXT]):
    ax.text(x, y, '\u2006'.join(txt), fontsize=LABEL_FS, color=col, ha='left', va='baseline',
            zorder=6, fontweight='light')

# ---- title -------------------------------------------------------------------
ax.text(133, 250, TITLE_LINES[0], fontsize=82.6, fontweight='bold', color='black', va='baseline', zorder=7)
ax.text(133, 394, TITLE_LINES[1], fontsize=83.8, fontweight='bold', color='black', va='baseline', zorder=7)
ax.text(133, 487, SUBTITLE, fontsize=40.4, color=TXT, va='baseline', zorder=7)

# ---- colour bar --------------------------------------------------------------
grad = np.linspace(0, 1, 512)[None, :]
ax.imshow(grad, cmap=bar_cmap, extent=(1322, 1917, 1642, 1600), aspect='auto', zorder=6)
fmt = lambda v: f'{v:g}'.replace('.', ',')
ax.text(1327, 1706, fmt(vmin), fontsize=41, color=TXT, ha='left', va='baseline', zorder=6)
ax.text(1919, 1706, fmt(vmax), fontsize=41, color=TXT, ha='right', va='baseline', zorder=6)


# ---- flags ---------------------------------------------------------------------
def stripes(cx, cy, r, colours, clip):
    h = 2 * r / len(colours)
    for i, c in enumerate(colours):
        rect = Rectangle((cx - r, cy - r + i * h), 2 * r, h + 0.5, fc=c, ec='none', zorder=8)
        ax.add_patch(rect)
        rect.set_clip_path(clip)


def draw_flag(name, cx, cy, r=29.5):
    clip = Circle((cx, cy), r, transform=ax.transData)
    if name == 'Венецуела':
        stripes(cx, cy, r, ['#ffcd00', '#00247d', '#cf142b'], clip)
        for dx, dy in [(-15, 4), (-12, -1), (-7, -5), (-2, -6), (3, -6), (8, -5), (12, -1), (15, 4)]:
            ax.plot(cx + dx, cy + dy, marker='*', ms=4, color='white', mew=0, zorder=9)
    elif name == 'Саудијска Арабија':
        stripes(cx, cy, r, ['#0b5a2e'], clip)
        for dy in (-9, -6, -3, 0):
            ax.plot([cx - 17, cx + 22], [cy + dy, cy + dy], color='#d8e6dc', lw=1.4, ls=(0, (1.5, 0.8)), zorder=9)
        ax.plot([cx - 18, cx + 16], [cy + 12, cy + 12], color='white', lw=1.2, zorder=9)
    elif name == 'Иран':
        stripes(cx, cy, r, ['#239f40', 'white', '#da0000'], clip)
        ax.add_patch(Ellipse((cx, cy), 9, 11, fc='none', ec='#da0000', lw=1.4, zorder=9))
        ax.plot([cx, cx], [cy - 6, cy + 6], color='#da0000', lw=1.2, zorder=9)
    elif name == 'Канада':
        stripes(cx, cy, r, ['white'], clip)
        for x0 in (cx - r, cx + 18):
            rect = Rectangle((x0, cy - r), r - 18, 2 * r, fc='#d80621', ec='none', zorder=8.5)
            ax.add_patch(rect)
            rect.set_clip_path(clip)
        leaf = [(0, -17), (4, -10), (8, -12), (6, -2), (11, -6), (14, -2), (15, 2), (13, 7), (1, 9),
                (1, 17), (-1, 17), (-1, 9), (-13, 7), (-15, 2), (-14, -2), (-11, -6), (-6, -2), (-8, -12), (-4, -10)]
        ax.add_patch(Polygon([(cx + a, cy + b) for a, b in leaf], fc='#d80621', ec='none', zorder=9))
    elif name == 'Ирак':
        stripes(cx, cy, r, ['#ce1126', 'white', 'black'], clip)
        ax.plot([cx - 15, cx + 18], [cy + 2, cy + 2], color='#1e8a45', lw=2.4, ls=(0, (1.2, 0.7)), zorder=9)
    elif name == 'УАЕ':
        stripes(cx, cy, r, ['#00732f', 'white', 'black'], clip)
        rect = Rectangle((cx - r, cy - r), r - 9, 2 * r, fc='#ff0000', ec='none', zorder=8.5)
        ax.add_patch(rect)
        rect.set_clip_path(clip)
    elif name == 'Кувајт':
        stripes(cx, cy, r, ['#007a3d', 'white', '#ce1126'], clip)
        tri = Polygon([(cx - r, cy - r), (cx - 18, cy - 10), (cx - 18, cy + 10), (cx - r, cy + r)],
                      fc='black', ec='none', zorder=8.5)
        ax.add_patch(tri)
        tri.set_clip_path(clip)
    elif name == 'Русија':
        stripes(cx, cy, r, ['white', '#0a3fa0', '#d92d20'], clip)
    elif name == 'САД':
        stripes(cx, cy, r, ['#b22234', 'white'] * 6 + ['#b22234'], clip)
        rect = Rectangle((cx - r, cy - r), r + 4, 2 * r * 7 / 13, fc='#3c3b6e', ec='none', zorder=8.5)
        ax.add_patch(rect)
        rect.set_clip_path(clip)
        for sx in range(-24, 4, 6):
            for sy in range(-24, 2, 5):
                p, = ax.plot(cx + sx, cy + sy, marker='*', ms=2.8, color='white', mew=0, zorder=9)
                p.set_clip_path(clip)
    elif name == 'Либија':
        stripes(cx, cy, r, ['#e70013', 'black', '#239e46'], clip)
        ax.add_patch(Circle((cx - 2, cy), 7, fc='white', ec='none', zorder=9))
        ax.add_patch(Circle((cx, cy), 5.5, fc='black', ec='none', zorder=9))
        ax.plot(cx + 9, cy, marker='*', ms=9, color='white', mew=0, zorder=9)


# ---- ranking table ---------------------------------------------------------------
ROW_Y = [1819, 1929, 2039, 2149, 2259]
for i, (rank, name, value) in enumerate(zip(RANKS, COUNTRIES, RESERVES)):
    col = i // 5
    y = ROW_Y[i % 5]
    x_circle = 171 if col == 0 else 1222
    x_flag = 222.5 if col == 0 else 1273
    x_name = 269 if col == 0 else 1320
    x_val = 1088 if col == 0 else 1914
    draw_flag(name, x_flag, y + 1)
    ax.add_patch(Circle((x_circle, y), 33.5, fc=BG, ec='black', lw=1.9, zorder=10))
    ax.text(x_circle, y + 14, str(rank), fontsize=27, color='#1a1a1a', ha='center', va='baseline', zorder=11)
    ax.text(x_name, y + 24, name, fontsize=40.4, color='#1a1a1a', ha='left', va='baseline', zorder=11)
    ax.text(x_val, y + 24, fmt(value), fontsize=41, fontweight='medium', color='black',
            ha='right', va='baseline', zorder=11)

# ---- source and logo --------------------------------------------------------------
ax.text(133, 2415, SOURCE, fontsize=30.8, color='#5a5a5a', va='baseline', zorder=7)
ax.add_patch(Polygon([(1510, 2371.7), (1594.3, 2341), (1527.7, 2421.7)], fc='#ff9a00', ec='none', zorder=7))
ax.text(1593, 2407, 'SPUTNIK', fontsize=50.6, fontweight='black', color='black', ha='left', va='baseline', zorder=7)

ax.set_xlim(0, 2048)
ax.set_ylim(2560, 0)
fig.savefig('out.png', dpi=100, facecolor=BG)
